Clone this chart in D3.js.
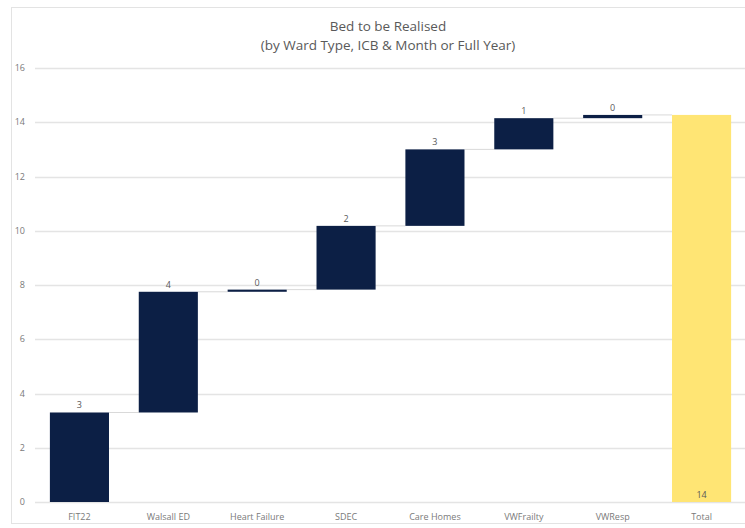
<!DOCTYPE html>
<html>
<head>
<meta charset="utf-8">
<script src="https://cdn.jsdelivr.net/npm/d3@7"></script>
<style>
  body { margin: 0; background: #fff; }
  svg { display: block; font-family: "Liberation Sans Narrow", "Open Sans", sans-serif; }
</style>
</head>
<body>
<div id="chart"></div>
<script>
// Waterfall data
const categories = ["FIT22", "Walsall ED", "Heart Failure", "SDEC", "Care Homes", "VWFrailty", "VWResp", "Total"];
const increments = [3.3, 4.45, 0.08, 2.35, 2.82, 1.15, 0.12];
const labels = ["3", "4", "0", "2", "3", "1", "0", "14"];
const yTicks = [0, 2, 4, 6, 8, 10, 12, 14, 16];

const width = 745;
const height = 528;

// build start/end for each step
let running = 0;
const steps = increments.map((v, i) => {
    const s = { name: categories[i], start: running, end: running + v, label: labels[i] };
    running += v;
    return s;
});
const total = { name: categories[7], start: 0, end: running, label: labels[7] };

const svg = d3.select("#chart").append("svg")
    .attr("width", width)
    .attr("height", height);

// outer frame
svg.append("rect")
    .attr("x", 11.5).attr("y", 7.5)
    .attr("width", 760).attr("height", 516)
    .attr("fill", "none")
    .attr("stroke", "#e3e3e3");

const x = d3.scaleBand()
    .domain(categories)
    .range([35, 746])
    .paddingInner(0.335)
    .paddingOuter(0.1675);

const y = d3.scaleLinear()
    .domain([0, 16])
    .range([502, 68]);

// title
const title = svg.append("text")
    .attr("x", 388)
    .attr("text-anchor", "middle")
    .attr("fill", "#595959")
    .attr("font-size", 13.5);
title.append("tspan").attr("x", 388).attr("y", 31).text("Bed to be Realised");
title.append("tspan").attr("x", 388).attr("y", 50).text("(by Ward Type, ICB & Month or Full Year)");

// gridlines
svg.append("g")
    .selectAll("line")
    .data(yTicks)
    .join("line")
    .attr("x1", 35).attr("x2", 746)
    .attr("y1", d => Math.round(y(d)) + 0.5)
    .attr("y2", d => Math.round(y(d)) + 0.5)
    .attr("stroke", "#e4e4e4")
    .attr("stroke-width", 1.3);

// y-axis labels
svg.append("g")
    .selectAll("text")
    .data(yTicks)
    .join("text")
    .attr("x", 25)
    .attr("y", d => y(d) + 3)
    .attr("text-anchor", "end")
    .attr("fill", "#7a7a7a")
    .attr("font-size", 9)
    .text(d => d);

// connector lines
svg.append("g")
    .selectAll("line")
    .data(steps)
    .join("line")
    .attr("x1", d => x(d.name) + x.bandwidth())
    .attr("x2", (d, i) => x(categories[i + 1]))
    .attr("y1", d => y(d.end))
    .attr("y2", d => y(d.end))
    .attr("stroke", "#d9d9d9")
    .attr("stroke-width", 1);

// increment bars
svg.append("g")
    .selectAll("rect")
    .data(steps)
    .join("rect")
    .attr("x", d => x(d.name))
    .attr("y", d => y(d.end))
    .attr("width", x.bandwidth())
    .attr("height", d => Math.max(2, y(d.start) - y(d.end)))
    .attr("fill", "#0c1f45");

// total bar
svg.append("rect")
    .attr("x", x(total.name))
    .attr("y", y(total.end))
    .attr("width", x.bandwidth())
    .attr("height", y(0) - y(total.end))
    .attr("fill", "#ffe574");

// data labels
svg.append("g")
    .selectAll("text")
    .data(steps)
    .join("text")
    .attr("x", d => x(d.name) + x.bandwidth() / 2)
    .attr("y", d => y(d.end) - 4)
    .attr("text-anchor", "middle")
    .attr("fill", "#595959")
    .attr("font-size", 9)
    .text(d => d.label);

svg.append("text")
    .attr("x", x(total.name) + x.bandwidth() / 2)
    .attr("y", y(0) - 4)
    .attr("text-anchor", "middle")
    .attr("fill", "#595959")
    .attr("font-size", 9)
    .text(total.label);

// x-axis category labels
svg.append("g")
    .selectAll("text")
    .data(categories)
    .join("text")
    .attr("x", d => x(d) + x.bandwidth() / 2)
    .attr("y", 520)
    .attr("text-anchor", "middle")
    .attr("fill", "#7a7a7a")
    .attr("font-size", 9)
    .text(d => d);
</script>
</body>
</html>
